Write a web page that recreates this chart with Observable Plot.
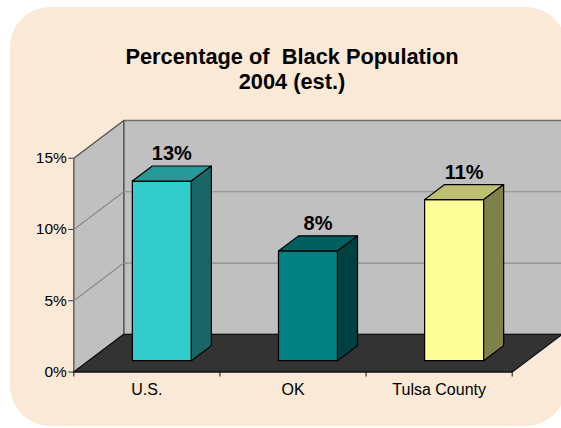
<!DOCTYPE html>
<html><head><meta charset="utf-8">
<script src="https://cdn.jsdelivr.net/npm/d3@7"></script>
<script src="https://cdn.jsdelivr.net/npm/@observablehq/plot@0.6"></script>
<style>
html,body{margin:0;padding:0;background:#fff;}
#wrap{position:relative;width:561px;height:428px;overflow:hidden;font-family:Arial,"Liberation Sans",sans-serif;}
#bg{position:absolute;left:10px;top:7px;width:556px;height:419px;background:#FAE9D7;border-radius:40px;}
#title{position:absolute;left:0;top:44px;width:584px;text-align:center;font-weight:bold;font-size:21.8px;line-height:25px;color:#000;white-space:pre;}
#chart{position:absolute;left:0;top:0;}
</style></head><body>
<div id="wrap"><div id="bg"></div><div id="title">Percentage of  Black Population
2004 (est.)</div><div id="chart"></div></div>
<script>
// ---- data ----
const categories = ["U.S.", "OK", "Tulsa County"];
const values = [12.6, 7.7, 11.3];
const valueLabels = ["13%", "8%", "11%"];
const yTicks = [0, 5, 10, 15];
const yTickLabels = ["0%", "5%", "10%", "15%"];

// ---- styles ----
const frontFill = ["#33CCCC", "#008080", "#FFFF99"];
const topFill = ["#269A9A", "#006060", "#BFBF73"];
const sideFill = ["#1A6666", "#004040", "#80804D"];

// ---- layout ----
const W = 561, H = 428, mL = 73.3, mR = 49.3, mT = 157.7, mB = 56.5;
const yMax = 15;
const nCat = categories.length;
const depthPx = [50, 37.7];                 // 3D depth vector in pixels
const DX = depthPx[0] / ((W - mL - mR) / nCat); // in x units
const DY = depthPx[1] / ((H - mT - mB) / yMax); // in y units
const barHalf = 0.202, d0 = 0.3, d1 = 0.7;
const P = (x, y, t) => ({x: x + t * DX, y: y + t * DY});
const poly = pts => [...pts, pts[0]];
const face = (pts, fill, stroke, sw) => Plot.line(poly(pts), {x: "x", y: "y", fill, stroke, strokeWidth: sw, strokeLinejoin: "round"});

const marks = [];
// walls & floor
marks.push(face([P(0,0,1), P(nCat,0,1), P(nCat,yMax,1), P(0,yMax,1)], "#C0C0C0", "#707070", 1.3));
marks.push(face([P(0,0,0), P(0,0,1), P(0,yMax,1), P(0,yMax,0)], "#C0C0C0", "#505050", 1.3));
// gridlines
yTicks.filter(v => v > 0 && v < yMax).forEach(v => {
  marks.push(Plot.line([P(0,v,0), P(0,v,1), P(nCat,v,1)], {x: "x", y: "y", stroke: "#8A8A8A", strokeWidth: 1.2}));
});
marks.push(face([P(0,0,0), P(nCat,0,0), P(nCat,0,1), P(0,0,1)], "#333333", "#111111", 1.3));
// bars
values.forEach((v, i) => {
  const xc = i + 0.5, x1 = xc - barHalf, x2 = xc + barHalf;
  marks.push(face([P(x1,0,d0), P(x2,0,d0), P(x2,v,d0), P(x1,v,d0)], frontFill[i], "#000", 1.2));
  marks.push(face([P(x1,v,d0), P(x2,v,d0), P(x2,v,d1), P(x1,v,d1)], topFill[i], "#000", 1.2));
  marks.push(face([P(x2,0,d0), P(x2,0,d1), P(x2,v,d1), P(x2,v,d0)], sideFill[i], "#000", 1.2));
});
// value labels
marks.push(Plot.text(d3.range(nCat), {
  x: i => i + 0.5 + 0.5 * DX, y: i => values[i] + d1 * DY, text: i => valueLabels[i],
  lineAnchor: "bottom", dy: -6, fontSize: 20, fontWeight: "bold", fill: "#000"
}));
// axes
marks.push(Plot.axisY(yTicks, {tickSize: 5, tickPadding: 2, fontSize: 15.5, tickFormat: d => yTickLabels[yTicks.indexOf(d)], stroke: "#333", fill: "#000"}));
marks.push(Plot.axisX(d3.range(nCat + 1), {tickSize: 5, tickFormat: () => "", stroke: "#111"}));
marks.push(Plot.axisX(d3.range(nCat).map(i => i + 0.5), {tickSize: 0, tickPadding: 12, fontSize: 16, tickFormat: d => categories[Math.floor(d)], fill: "#000"}));

const chart = Plot.plot({
  width: W, height: H,
  marginLeft: mL, marginRight: mR, marginTop: mT, marginBottom: mB,
  x: {domain: [0, nCat], label: null},
  y: {domain: [0, yMax], label: null},
  style: {background: "transparent", overflow: "visible", fontFamily: "Arial, 'Liberation Sans', sans-serif", color: "#000"},
  marks
});
document.getElementById("chart").appendChild(chart);
</script>
</body></html>
